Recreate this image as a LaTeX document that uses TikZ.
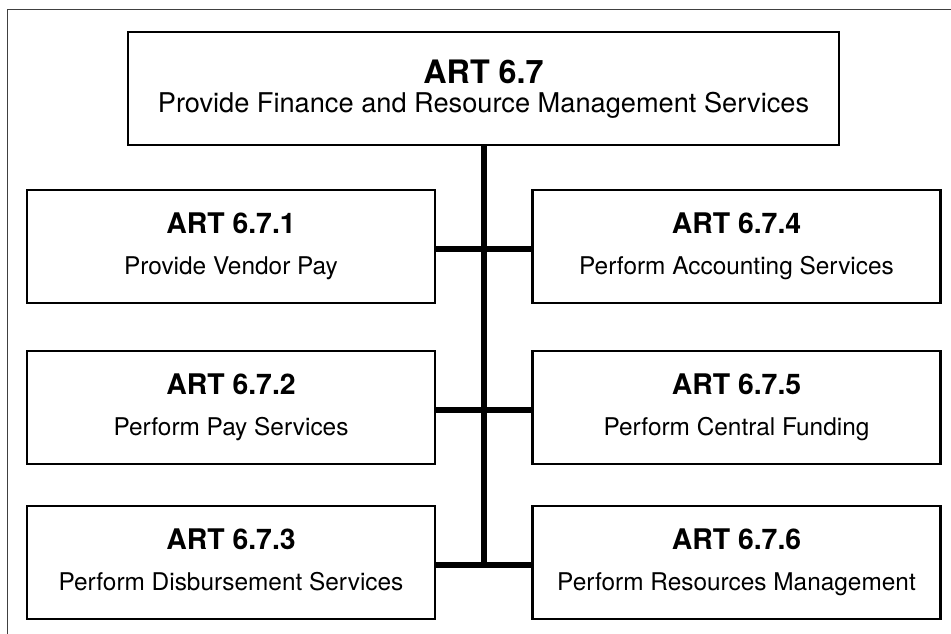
\documentclass[tikz,border=0pt]{standalone}
\usepackage{fontspec}
\setmainfont{TeX Gyre Heros}
\begin{document}
\begin{tikzpicture}[x=1pt,y=-1pt,
  box/.style={draw=black,line width=2.6pt,minimum width=#1,inner sep=0pt},
  ttl/.style={anchor=base,font=\fontsize{28.4}{32}\selectfont\bfseries,inner sep=0pt},
  sub/.style={anchor=base,font=\fontsize{24.4}{28}\selectfont,inner sep=0pt},
  link/.style={line width=6pt,line cap=butt}]
\useasboundingbox (0,0) rectangle (951,634);
\draw[line width=1pt,black!75] (7,634) -- (7,10) -- (951,10);
% top box
\node[box=711pt,minimum height=113pt] (top) at (483.5,88.5) {};
\node[anchor=base,font=\fontsize{32.3}{36}\selectfont\bfseries,inner sep=0pt] (toptitle) at (483.5,83.5) {ART 6.7};
\node[anchor=base,font=\fontsize{27.2}{30}\selectfont,inner sep=0pt] (topsub) at (483.5,112) {Provide Finance and Resource Management Services};
% child boxes
\foreach \n/\x/\t/\s/\tt in {
  a/231/190/{Provide Vendor Pay}/{ART 6.7.1},
  b/231/351/{Perform Pay Services}/{ART 6.7.2},
  c/231/506/{Perform Disbursement Services}/{ART 6.7.3},
  d/736.5/190/{Perform Accounting Services}/{ART 6.7.4},
  e/736.5/351/{Perform Central Funding}/{ART 6.7.5},
  f/736.5/506/{Perform Resources Management}/{ART 6.7.6}}{
  \node[box=408pt,minimum height=113pt] (\n) at (\x,\t+56.5) {};
  \node[ttl] (\n t) at (\x,\t+43) {\tt};
  \node[sub] (\n s) at (\x,\t+84) {\s};
}
% connectors
\coordinate (j3) at (top.south |- c.east);
\draw[link] (top.south) -- ([yshift=-3pt]j3);
\draw[link] ([yshift=-2pt]a.east) -- ([yshift=-2pt]d.west);
\draw[link] ([yshift=-2pt]b.east) -- ([yshift=-2pt]e.west);
\draw[link] ([yshift=-2pt]c.east) -- ([yshift=-2pt]f.west);
\end{tikzpicture}
\end{document}
